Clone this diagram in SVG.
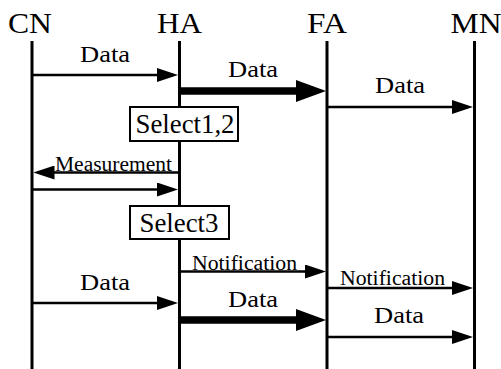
<svg xmlns="http://www.w3.org/2000/svg" width="501" height="369" viewBox="0 0 501 369">
<defs>
<style>
text{font-family:"Liberation Serif","Times New Roman",serif;fill:#000;text-anchor:middle}
.hd{font-size:30px}
.lb{font-size:23px}
.sm{font-size:20px}
.bx{font-size:27px}
.life{stroke:#000;stroke-width:3}
.thin{stroke:#000;stroke-width:2.5;marker-end:url(#ah)}
.thick{stroke:#000;stroke-width:7.5;marker-end:url(#ahb)}
.box{fill:#fff;stroke:#000;stroke-width:2}
</style>
<marker id="ah" markerUnits="userSpaceOnUse" markerWidth="21" markerHeight="14" refX="16" refY="7" orient="auto">
<path d="M0,0 L21,7 L0,14 z" fill="#000"/>
</marker>
<marker id="ahb" markerUnits="userSpaceOnUse" markerWidth="30" markerHeight="22" refX="10" refY="11" orient="auto">
<path d="M0,0 L30,11 L0,22 z" fill="#000"/>
</marker>
</defs>
<g id="CN">
<text class="hd" x="30" y="33" textLength="44" lengthAdjust="spacingAndGlyphs">CN</text>
<line class="life" x1="32" y1="41" x2="32" y2="369"/>
</g>
<g id="HA">
<text class="hd" x="179.5" y="33" textLength="45" lengthAdjust="spacingAndGlyphs">HA</text>
<line class="life" x1="179.5" y1="41" x2="179.5" y2="369"/>
</g>
<g id="FA">
<text class="hd" x="327" y="33" textLength="40" lengthAdjust="spacingAndGlyphs">FA</text>
<line class="life" x1="327" y1="41" x2="327" y2="369"/>
</g>
<g id="MN">
<text class="hd" x="476" y="33" textLength="51" lengthAdjust="spacingAndGlyphs">MN</text>
<line class="life" x1="474.5" y1="41" x2="474.5" y2="369"/>
</g>
<g id="connectors">
<line class="thin" x1="32" y1="75" x2="173" y2="75"/>
<line class="thick" x1="179.5" y1="91" x2="306" y2="91"/>
<line class="thin" x1="327" y1="107" x2="468" y2="107"/>
<line class="thin" x1="179.5" y1="172.5" x2="38.5" y2="172.5"/>
<line class="thin" x1="32" y1="189.5" x2="173" y2="189.5"/>
<line class="thin" x1="179.5" y1="271.5" x2="321" y2="271.5"/>
<line class="thin" x1="327" y1="288" x2="468" y2="288"/>
<line class="thin" x1="32" y1="303" x2="173" y2="303"/>
<line class="thick" x1="179.5" y1="320" x2="306" y2="320"/>
<line class="thin" x1="327" y1="337" x2="468" y2="337"/>
</g>
<g id="labels">
<text class="lb" x="105" y="62" textLength="50" lengthAdjust="spacingAndGlyphs">Data</text>
<text class="lb" x="253" y="77" textLength="50" lengthAdjust="spacingAndGlyphs">Data</text>
<text class="lb" x="400" y="93" textLength="50" lengthAdjust="spacingAndGlyphs">Data</text>
<text class="sm" x="113.5" y="171" textLength="117" lengthAdjust="spacingAndGlyphs">Measurement</text>
<text class="sm" x="244.5" y="270" textLength="105" lengthAdjust="spacingAndGlyphs">Notification</text>
<text class="sm" x="392.5" y="285" textLength="105" lengthAdjust="spacingAndGlyphs">Notification</text>
<text class="lb" x="105" y="290" textLength="50" lengthAdjust="spacingAndGlyphs">Data</text>
<text class="lb" x="253" y="307" textLength="50" lengthAdjust="spacingAndGlyphs">Data</text>
<text class="lb" x="399" y="323" textLength="50" lengthAdjust="spacingAndGlyphs">Data</text>
</g>
<g id="select12">
<rect class="box" x="130" y="107" width="108" height="34"/>
<text class="bx" x="185" y="133" textLength="99" lengthAdjust="spacingAndGlyphs">Select1,2</text>
</g>
<g id="select3">
<rect class="box" x="130" y="206" width="99" height="33"/>
<text class="bx" x="179" y="232" textLength="79" lengthAdjust="spacingAndGlyphs">Select3</text>
</g>
</svg>
